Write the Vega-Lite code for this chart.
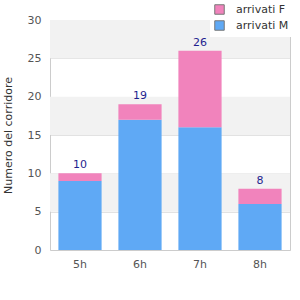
{
  "$schema": "https://vega.github.io/schema/vega-lite/v6.json",
  "autosize": "none",
  "padding": {"left": 50, "top": 20, "right": 10, "bottom": 50},
  "width": 240,
  "height": 230,
  "background": "white",
  "config": {
    "view": {"stroke": null},
    "font": "DejaVu Sans",
    "axis": {"labelFont": "DejaVu Sans", "titleFont": "DejaVu Sans", "labelColor": "#555555", "titleColor": "#333333", "labelFontSize": 11, "titleFontSize": 11, "titleFontWeight": "normal"}
  },
  "resolve": {"axis": {"y": "independent"}},
  "datasets": {
    "bars": [
      {"ora": "5h", "sesso": "arrivati M", "n": 9},
      {"ora": "5h", "sesso": "arrivati F", "n": 1},
      {"ora": "6h", "sesso": "arrivati M", "n": 17},
      {"ora": "6h", "sesso": "arrivati F", "n": 2},
      {"ora": "7h", "sesso": "arrivati M", "n": 16},
      {"ora": "7h", "sesso": "arrivati F", "n": 10},
      {"ora": "8h", "sesso": "arrivati M", "n": 6},
      {"ora": "8h", "sesso": "arrivati F", "n": 2}
    ],
    "bands": [
      {"lo": 5, "hi": 10},
      {"lo": 15, "hi": 20},
      {"lo": 25, "hi": 30}
    ]
  },
  "layer": [
    {
      "data": {"name": "bands"},
      "mark": {"type": "rect", "color": "#f2f2f2"},
      "encoding": {
        "y": {"field": "lo", "type": "quantitative", "scale": {"domain": [0, 30]},
          "axis": {"orient": "left", "values": [0, 5, 10, 15, 20, 25, 30], "grid": true, "gridColor": "#e2e2e2", "ticks": false, "domainColor": "#cccccc", "labelPadding": 9, "title": "Numero del corridore", "titlePadding": 14}},
        "y2": {"field": "hi"}
      }
    },
    {
      "data": {"name": "bars"},
      "mark": {"type": "bar"},
      "encoding": {
        "x": {"field": "ora", "type": "nominal", "scale": {"paddingInner": 0.28, "paddingOuter": 0.14},
          "axis": {"title": null, "labelAngle": 0, "ticks": false, "domainColor": "#cccccc", "labelPadding": 8}},
        "y": {"aggregate": "sum", "field": "n", "type": "quantitative", "stack": "zero",
          "axis": {"orient": "right", "labels": false, "ticks": false, "grid": false, "title": null, "domainColor": "#cccccc"}},
        "color": {"field": "sesso", "type": "nominal",
          "scale": {"domain": ["arrivati F", "arrivati M"], "range": ["#f183bc", "#5fa9f5"]},
          "legend": {"title": null, "orient": "none", "legendX": 160, "legendY": -20, "symbolType": "square", "symbolStrokeColor": "#777777", "symbolStrokeWidth": 1, "symbolSize": 90, "labelFontSize": 11, "labelColor": "#333333", "fillColor": "white", "padding": 4, "rowPadding": 1, "labelOffset": 11}},
        "order": {"field": "sesso", "sort": "descending"}
      }
    },
    {
      "data": {"name": "bars"},
      "transform": [{"aggregate": [{"op": "sum", "field": "n", "as": "tot"}], "groupby": ["ora"]}],
      "mark": {"type": "text", "dy": -8, "color": "#1f1f8f", "fontSize": 11},
      "encoding": {
        "x": {"field": "ora", "type": "nominal"},
        "y": {"field": "tot", "type": "quantitative", "axis": null},
        "text": {"field": "tot", "type": "quantitative"}
      }
    }
  ]
}
